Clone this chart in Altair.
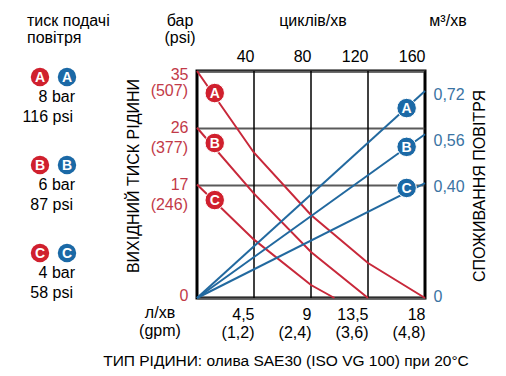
import json
import altair as alt
import pandas as pd

FONT = "Liberation Sans Narrow, Liberation Sans, Arial, sans-serif"
FS = 16
RED = "#c8283a"
RED_DOT = "#d0202e"
BLUE = "#22699f"
BLUE_DOT = "#1b69a6"
RED_TXT = "#c23a48"
BLUE_TXT = "#3a73a3"

# ---- data ----
curves = ["A", "B", "C"]
red_x = {"A": [0, 4.5, 9, 13.5, 18], "B": [0, 4.5, 9, 13.5], "C": [0, 4.5, 9, 10.85]}
red_bar = {"A": [35, 22.4, 12.8, 5.4, 0], "B": [26.25, 16.1, 7.1, 0], "C": [17.5, 9.0, 2.0, 0]}
air_x = [0, 18]
air_start = [0, 0, 0]
air_end = [0.72, 0.57, 0.40]
red_mark_x = [1.4, 1.4, 1.4]
red_mark_bar = [31.6, 23.9, 15.1]
blue_mark_x = [16.55, 16.55, 16.55]
blue_mark_air = [0.661, 0.526, 0.383]

lpm_ticks = [4.5, 9, 13.5, 18]
lpm_labels = ["4,5", "9", "13,5", "18"]
gpm_labels = ["(1,2)", "(2,4)", "(3,6)", "(4,8)"]
cyc_ticks = [40, 80, 120, 160]
bar_ticks = [0, 17.5, 26.25, 35]
bar_labels = ["0", "17", "26", "35"]
psi_labels = ["", "(246)", "(377)", "(507)"]
air_ticks = [0, 0.40, 0.56, 0.72]
air_labels = ["0", "0,40", "0,56", "0,72"]

leg_bar = ["8 bar", "6 bar", "4 bar"]
leg_psi = ["116 psi", "87 psi", "58 psi"]


def label_expr(vals, labs):
    e = "''"
    for v, l in zip(vals, labs):
        e = f"abs(datum.value - {v}) < 1e-6 ? {json.dumps(l, ensure_ascii=False)} : ({e})"
    return e


red_df = pd.DataFrame(
    [{"curve": c, "lpm": x, "bar": b} for c in curves for x, b in zip(red_x[c], red_bar[c])]
)
blue_df = pd.DataFrame(
    [{"curve": c, "lpm": x, "air": a} for c, s, e in zip(curves, air_start, air_end) for x, a in zip(air_x, [s, e])]
)
rm_df = pd.DataFrame({"curve": curves, "lpm": red_mark_x, "bar": red_mark_bar})
bm_df = pd.DataFrame({"curve": curves, "lpm": blue_mark_x, "air": blue_mark_air})
psi_df = pd.DataFrame({"bar": bar_ticks, "psi": psi_labels})
leg_df = pd.DataFrame({"letter": curves, "barl": leg_bar, "psil": leg_psi, "i": [0, 1, 2]})
one = pd.DataFrame({"k": [0]})

# ---- scales / axes ----
x_top = alt.X(
    "cyc:Q",
    scale=alt.Scale(domain=[0, 160], nice=False),
    axis=alt.Axis(orient="top", values=cyc_ticks, title=None, ticks=False, domain=False, grid=False,
                  labelAlign="right", labelPadding=7, labelFontSize=FS, labelColor="black",
                  labelFlush=False, labelFont=FONT),
)
x_red = alt.X(
    "lpm:Q",
    scale=alt.Scale(domain=[0, 18], nice=False),
    axis=alt.Axis(orient="bottom", values=lpm_ticks,
                  labelExpr=label_expr(lpm_ticks, [[a, b] for a, b in zip(lpm_labels, gpm_labels)]),
                  title=None, ticks=False, domain=False, grid=False, labelAlign="right",
                  labelBaseline="top", labelPadding=8, labelFontSize=FS, labelLineHeight=18,
                  labelFlush=False, labelColor="black", labelFont=FONT),
)
y_red = alt.Y(
    "bar:Q",
    scale=alt.Scale(domain=[0, 35], nice=False),
    axis=alt.Axis(values=bar_ticks, labelExpr=label_expr(bar_ticks, bar_labels), title=None,
                  ticks=False, domain=False, grid=True, gridColor="#5a5a5a", gridWidth=2,
                  labelColor=RED_TXT, labelFontSize=FS, labelPadding=9, labelFlush=True,
                  labelFlushOffset=5, labelFont=FONT),
)
x_blue = alt.X("lpm:Q", scale=alt.Scale(domain=[0, 18], nice=False), axis=None)
y_blue = alt.Y(
    "air:Q",
    scale=alt.Scale(domain=[0, 0.79], nice=False),
    axis=alt.Axis(orient="right", values=air_ticks, labelExpr=label_expr(air_ticks, air_labels),
                  title=None, ticks=False, domain=False, grid=False, labelColor=BLUE_TXT,
                  labelFontSize=FS, labelPadding=8, labelAlign="left", labelFlush=True,
                  labelFlushOffset=3, labelOffset=3, labelFont=FONT),
)

vgrid = alt.Chart(pd.DataFrame({"cyc": cyc_ticks})).mark_rule(color="black", strokeWidth=1.5).encode(x=x_top)

red_lines = alt.Chart(red_df).mark_line(color=RED, strokeWidth=2).encode(x=x_red, y=y_red, detail="curve:N")
psi_text = alt.Chart(psi_df).mark_text(align="right", dy=20, fontSize=FS, font=FONT, color=RED_TXT).encode(
    x=alt.value(-9), y=y_red, text="psi:N")
red_marks = alt.Chart(rm_df).mark_circle(size=380, color=RED_DOT, opacity=1, stroke="white", strokeWidth=1).encode(
    x=x_red, y=y_red)
red_letters = alt.Chart(rm_df).mark_text(color="white", fontWeight="bold", fontSize=14, font="Liberation Sans",
                                         dy=1).encode(x=x_red, y=y_red, text="curve:N")
red_layer = alt.layer(red_lines, psi_text, red_marks, red_letters)

blue_lines = alt.Chart(blue_df).mark_line(color=BLUE, strokeWidth=2).encode(x=x_blue, y=y_blue, detail="curve:N")
blue_marks = alt.Chart(bm_df).mark_circle(size=380, color=BLUE_DOT, opacity=1, stroke="white", strokeWidth=1).encode(
    x=x_blue, y=y_blue)
blue_letters = alt.Chart(bm_df).mark_text(color="white", fontWeight="bold", fontSize=14, font="Liberation Sans",
                                          dy=1).encode(x=x_blue, y=y_blue, text="curve:N")
blue_layer = alt.layer(blue_lines, blue_marks, blue_letters)


def txt(s, x, y, size=FS, **kw):
    return alt.Chart(one).mark_text(font=FONT, fontSize=size, color="black", **kw).encode(
        x=alt.value(x), y=alt.value(y), text=alt.value(s))


decos = [
    txt("бар", -17, -50),
    txt("(psi)", -17, -33),
    txt("циклів/хв", 116, -50),
    txt("м³/хв", 251, -50),
    txt("тиск подачі", -170, -50, align="left"),
    txt("повітря", -170, -33, align="left"),
    txt("ВИХІДНИЙ ТИСК РІДИНИ", -63, 105, angle=270),
    txt("СПОЖИВАННЯ ПОВІТРЯ", 283, 115, angle=270),
    txt("л/хв", -37, 242),
    txt("(gpm)", -37, 260),
    txt("ТИП РІДИНИ: олива SAE30 (ISO VG 100) при 20°C", 89, 290, size=15.5),
]

leg_base = alt.Chart(leg_df).transform_calculate(py="6 + datum.i * 88")
ly = alt.Y("py:Q", scale=None)
legend = [
    leg_base.mark_circle(size=340, color=RED_DOT, opacity=1).encode(x=alt.value(-157), y=ly),
    leg_base.mark_circle(size=340, color=BLUE_DOT, opacity=1).encode(x=alt.value(-130), y=ly),
    leg_base.mark_text(color="white", fontWeight="bold", fontSize=14, font="Liberation Sans", dy=1).encode(
        x=alt.value(-157), y=ly, text="letter:N"),
    leg_base.mark_text(color="white", fontWeight="bold", fontSize=14, font="Liberation Sans", dy=1).encode(
        x=alt.value(-130), y=ly, text="letter:N"),
    leg_base.mark_text(align="right", fontSize=FS, font=FONT, dy=20, color="black").encode(
        x=alt.value(-122), y=ly, text="barl:N"),
    leg_base.mark_text(align="right", fontSize=FS, font=FONT, dy=40, color="black").encode(
        x=alt.value(-124), y=ly, text="psil:N"),
]

chart = alt.layer(vgrid, red_layer, blue_layer, *decos, *legend).resolve_scale(
    x="independent", y="independent"
).properties(
    width=228, height=227,
    padding={"left": 197, "top": 71, "right": 81, "bottom": 78},
    autosize=alt.AutoSizeParams(type="none"),
    background="white",
).configure_view(stroke="black", strokeWidth=3)

chart.save("out.html", embed_options={"renderer": "svg", "actions": False})
